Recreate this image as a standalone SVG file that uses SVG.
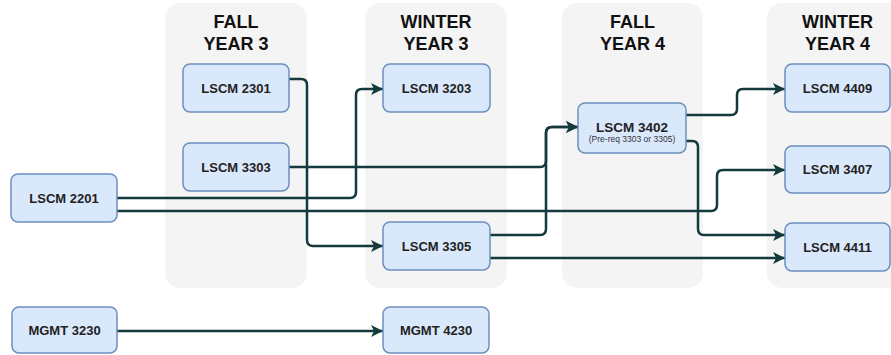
<svg xmlns="http://www.w3.org/2000/svg" width="891" height="355" viewBox="0 0 891 355">
<style>
.col{fill:#f4f4f4;}
.hdr{font-family:"Liberation Sans",Arial,sans-serif;font-weight:bold;font-size:18px;fill:#111;text-anchor:middle;}
.box{fill:#dae8fc;stroke:#6c8ebf;stroke-width:1.5;}
.lbl{font-family:"Liberation Sans",Arial,sans-serif;font-weight:bold;font-size:13px;fill:#222;text-anchor:middle;}
.sub{font-family:"Liberation Sans",Arial,sans-serif;font-size:8.5px;fill:#333;text-anchor:middle;}
.edge{fill:none;stroke:#143a3e;stroke-width:2.5;}
</style>
<defs>
<marker id="arr" markerUnits="userSpaceOnUse" markerWidth="14" markerHeight="12" refX="12" refY="6" orient="auto">
<path d="M0,0 L12,6 L0,12 L3,6 z" fill="#143a3e"/>
</marker>
</defs>
<g id="columns">
<rect class="col" x="165" y="3" width="142" height="285" rx="15"/>
<rect class="col" x="365" y="3" width="142" height="285" rx="15"/>
<rect class="col" x="562" y="3" width="141" height="285" rx="15"/>
<rect class="col" x="767" y="3" width="142" height="285" rx="15"/>
<text class="hdr" x="236" y="28">FALL</text>
<text class="hdr" x="236" y="50">YEAR 3</text>
<text class="hdr" x="436" y="28">WINTER</text>
<text class="hdr" x="436" y="50">YEAR 3</text>
<text class="hdr" x="632.5" y="28">FALL</text>
<text class="hdr" x="632.5" y="50">YEAR 4</text>
<text class="hdr" x="837.5" y="28">WINTER</text>
<text class="hdr" x="837.5" y="50">YEAR 4</text>
</g>
<g id="connectors">
<path class="edge" marker-end="url(#arr)" d="M289,79 L301,79 Q307,79 307,85 L307,240 Q307,246 313,246 L383,246"/>
<path class="edge" marker-end="url(#arr)" d="M117,198 L350,198 Q356,198 356,192 L356,95 Q356,89 362,89 L383,89"/>
<path class="edge" marker-end="url(#arr)" d="M117,211 L711,211 Q717,211 717,205 L717,176 Q717,170 723,170 L785,170"/>
<path class="edge" marker-end="url(#arr)" d="M289,167 L540,167 Q546,167 546,161 L546,133 Q546,127 552,127 L578,127"/>
<path class="edge" marker-end="url(#arr)" d="M490,235 L540,235 Q546,235 546,229 L546,133 Q546,127 552,127 L578,127"/>
<path class="edge" marker-end="url(#arr)" d="M490,258 L785,258"/>
<path class="edge" marker-end="url(#arr)" d="M686,115 L731,115 Q737,115 737,109 L737,95 Q737,89 743,89 L785,89"/>
<path class="edge" marker-end="url(#arr)" d="M686,141 L692,141 Q698,141 698,147 L698,229 Q698,235 704,235 L785,235"/>
<path class="edge" marker-end="url(#arr)" d="M117,331 L383,331"/>
</g>
<g id="lscm2301"><rect class="box" x="183" y="64" width="106" height="48" rx="7"/><text class="lbl" x="236" y="93">LSCM 2301</text></g>
<g id="lscm3303"><rect class="box" x="183" y="143" width="106" height="48" rx="7"/><text class="lbl" x="236" y="172">LSCM 3303</text></g>
<g id="lscm2201"><rect class="box" x="11" y="174" width="106" height="48" rx="7"/><text class="lbl" x="64" y="203">LSCM 2201</text></g>
<g id="lscm3203"><rect class="box" x="383" y="64" width="107" height="48" rx="7"/><text class="lbl" x="436.5" y="93">LSCM 3203</text></g>
<g id="lscm3305"><rect class="box" x="383" y="222" width="107" height="48" rx="7"/><text class="lbl" x="436.5" y="251">LSCM 3305</text></g>
<g id="lscm3402"><rect class="box" x="578" y="103" width="108" height="50" rx="7"/><text class="lbl" x="632" y="132" style="font-size:13.5px">LSCM 3402</text><text class="sub" x="632" y="142">(Pre-req 3303 or 3305)</text></g>
<g id="lscm4409"><rect class="box" x="785" y="64" width="105" height="48" rx="7"/><text class="lbl" x="837.5" y="93">LSCM 4409</text></g>
<g id="lscm3407"><rect class="box" x="785" y="146" width="105" height="47" rx="7"/><text class="lbl" x="837.5" y="174">LSCM 3407</text></g>
<g id="lscm4411"><rect class="box" x="785" y="223" width="105" height="48" rx="7"/><text class="lbl" x="837.5" y="252">LSCM 4411</text></g>
<g id="mgmt3230"><rect class="box" x="12" y="307" width="105" height="46" rx="7"/><text class="lbl" x="64.5" y="335">MGMT 3230</text></g>
<g id="mgmt4230"><rect class="box" x="383" y="307" width="106" height="46" rx="7"/><text class="lbl" x="436" y="335">MGMT 4230</text></g>
</svg>
